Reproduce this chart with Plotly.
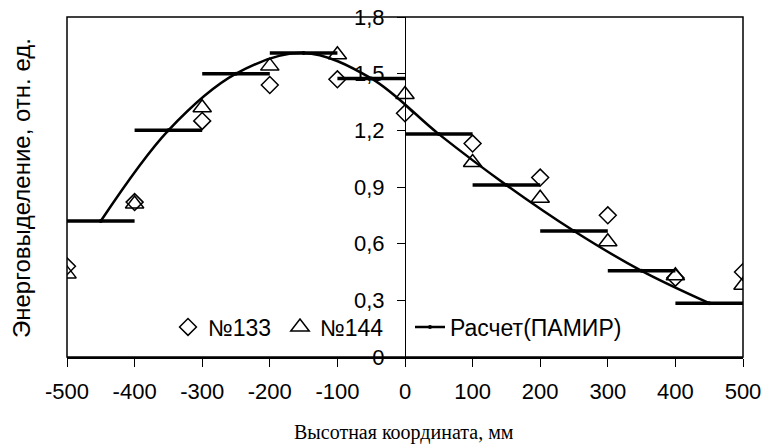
import plotly.graph_objects as go

# ---- data ----
x_exp = [-500, -400, -300, -200, -100, 0, 100, 200, 300, 400, 500]
y_133 = [0.48, 0.82, 1.25, 1.44, 1.47, 1.29, 1.13, 0.95, 0.75, 0.42, 0.45]
y_144 = [0.44, 0.81, 1.32, 1.54, 1.60, 1.39, 1.03, 0.84, 0.61, 0.43, 0.38]

x_calc = [-450, -350, -250, -150, -50, 50, 150, 250, 350, 450]
y_calc = [0.72, 1.20, 1.50, 1.61, 1.475, 1.18, 0.91, 0.667, 0.456, 0.285]
calc_halfwidth = [50, 50, 50, 50, 50, 50, 50, 50, 50, 50]

y_tickvals = [0, 0.3, 0.6, 0.9, 1.2, 1.5, 1.8]
y_ticktext = ["0", "0,3", "0,6", "0,9", "1,2", "1,5", "1,8"]
x_tickvals = [-500, -400, -300, -200, -100, 0, 100, 200, 300, 400, 500]
x_ticktext = ["-500", "-400", "-300", "-200", "-100", "0", "100", "200", "300", "400", "500"]

W, H = 779, 448
ML, MR, MT, MB = 67, 36, 17, 91
PW = W - ML - MR
PH = H - MT - MB

def px2paper_x(px):
    return (px - ML) / PW

def px2paper_y(py):
    return (H - MB - py) / PH

font_sans = "Liberation Sans, Arial, sans-serif"
font_serif = "Liberation Serif, Times New Roman, serif"

fig = go.Figure()

fig.add_trace(go.Scatter(
    x=x_calc, y=y_calc, name="Расчет(ПАМИР)", mode="lines+markers",
    line=dict(color="black", width=2.5, shape="spline", smoothing=1),
    marker=dict(color="black", size=4, symbol="circle"),
    error_x=dict(type="data", array=calc_halfwidth, symmetric=True,
                 color="black", thickness=3.5, width=0),
    legend="legend3",
))
fig.add_trace(go.Scatter(
    x=x_exp, y=y_133, name="№133", mode="markers",
    marker=dict(symbol="diamond-open", size=13, color="black",
                line=dict(color="black", width=1.5)),
    legend="legend",
))
fig.add_trace(go.Scatter(
    x=x_exp, y=y_144, name="№144", mode="markers",
    marker=dict(symbol="triangle-up-open", size=16, color="black",
                line=dict(color="black", width=1.5)),
    legend="legend2",
))

leg_common = dict(bgcolor="rgba(0,0,0,0)", borderwidth=0,
                  font=dict(family=font_sans, size=23, color="black"),
                  orientation="h", yanchor="middle", xanchor="left",
                  y=px2paper_y(327))

fig.update_layout(
    width=W, height=H,
    margin=dict(l=ML, r=MR, t=MT, b=MB, autoexpand=False),
    paper_bgcolor="white", plot_bgcolor="white",
    showlegend=True,
    legend=dict(x=px2paper_x(168), **leg_common),
    legend2=dict(x=px2paper_x(280), **leg_common),
    legend3=dict(x=px2paper_x(410), **leg_common),
    xaxis=dict(
        range=[-500, 500], tickvals=x_tickvals, ticktext=x_ticktext,
        ticks="outside", ticklen=8, tickwidth=1.2, tickcolor="black",
        showline=True, linecolor="black", linewidth=1.5,
        showgrid=False, zeroline=False, automargin=False,
        tickfont=dict(family=font_sans, size=22, color="black"),
        ticklabelstandoff=6,
    ),
    yaxis=dict(
        range=[0, 1.8], tickvals=y_tickvals, ticktext=y_ticktext,
        anchor="free", position=0.5,
        ticks="outside", ticklen=8, tickwidth=1.2, tickcolor="black",
        showline=True, linecolor="black", linewidth=1.2,
        showgrid=False, zeroline=False, automargin=False,
        tickfont=dict(family=font_sans, size=22, color="black"),
        ticklabelstandoff=8,
    ),
    shapes=[dict(type="rect", xref="x domain", yref="y domain",
                 x0=0, x1=1, y0=0, y1=1, line=dict(color="black", width=1.5),
                 layer="above")],
    annotations=[
        dict(text="Энерговыделение, отн. ед.", xref="paper", yref="paper",
             x=px2paper_x(21), y=px2paper_y(188), xanchor="center", yanchor="middle",
             textangle=-90, showarrow=False,
             font=dict(family=font_sans, size=24, color="black")),
        dict(text="Высотная координата, мм", xref="paper", yref="paper",
             x=px2paper_x(404), y=px2paper_y(432), xanchor="center", yanchor="middle",
             showarrow=False,
             font=dict(family=font_serif, size=20, color="black")),
    ],
)

fig.write_html("out.html", config={"displayModeBar": False},
               post_script="document.body.style.margin='0px';document.body.style.padding='0px';")
